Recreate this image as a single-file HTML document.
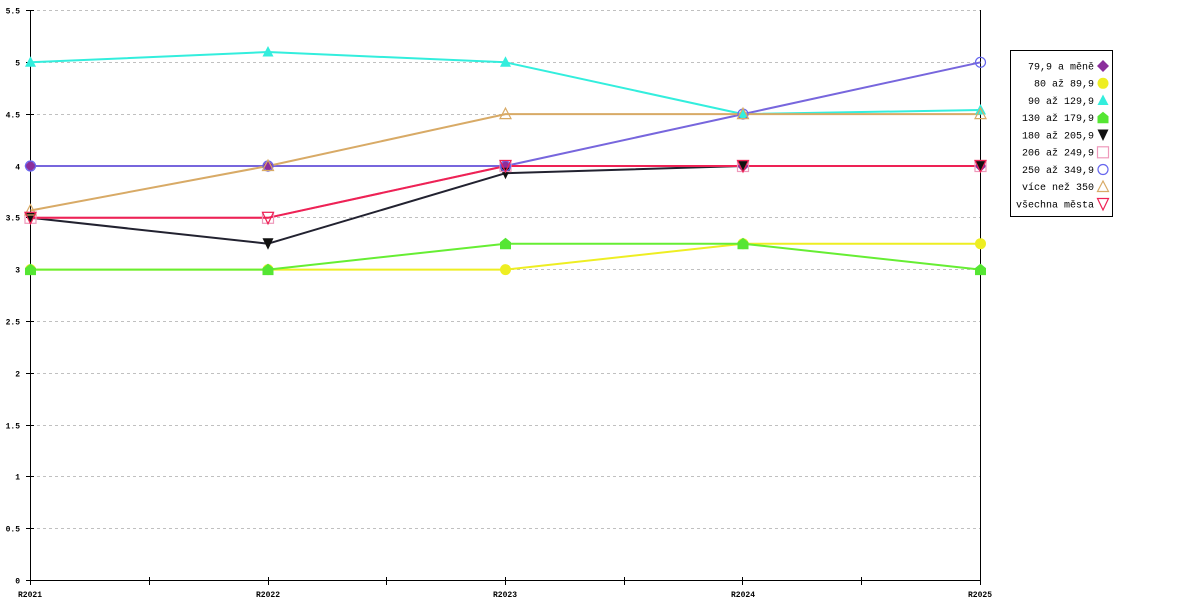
<!DOCTYPE html>
<html><head><meta charset="utf-8"><style>
html,body{margin:0;padding:0;background:#fff;}
svg{display:block;}
.t{font-family:"Liberation Mono",monospace;font-size:8px;font-weight:bold;fill:#000;}
.l{font-family:"Liberation Mono","DejaVu Sans Mono",monospace;font-size:10px;fill:#000;}
</style></head><body>
<svg width="1200" height="600" viewBox="0 0 1200 600" xmlns="http://www.w3.org/2000/svg">
<rect width="1200" height="600" fill="#fff"/>
<!-- grid -->
<g stroke="#c0c0c0" stroke-width="1" stroke-dasharray="3,3">
<line x1="31" y1="10.5" x2="980" y2="10.5"/>
<line x1="31" y1="62.5" x2="980" y2="62.5"/>
<line x1="31" y1="114.5" x2="980" y2="114.5"/>
<line x1="31" y1="166.5" x2="980" y2="166.5"/>
<line x1="31" y1="217.5" x2="980" y2="217.5"/>
<line x1="31" y1="269.5" x2="980" y2="269.5"/>
<line x1="31" y1="321.5" x2="980" y2="321.5"/>
<line x1="31" y1="373.5" x2="980" y2="373.5"/>
<line x1="31" y1="425.5" x2="980" y2="425.5"/>
<line x1="31" y1="476.5" x2="980" y2="476.5"/>
<line x1="31" y1="528.5" x2="980" y2="528.5"/>
</g>
<!-- axes -->
<g stroke="#000" stroke-width="1">
<line x1="30.5" y1="10" x2="30.5" y2="585"/>
<line x1="980.5" y1="10" x2="980.5" y2="585"/>
<line x1="30" y1="580.5" x2="981" y2="580.5"/>
<line x1="26" y1="10.5" x2="34" y2="10.5"/>
<line x1="26" y1="62.5" x2="34" y2="62.5"/>
<line x1="26" y1="114.5" x2="34" y2="114.5"/>
<line x1="26" y1="166.5" x2="34" y2="166.5"/>
<line x1="26" y1="217.5" x2="34" y2="217.5"/>
<line x1="26" y1="269.5" x2="34" y2="269.5"/>
<line x1="26" y1="321.5" x2="34" y2="321.5"/>
<line x1="26" y1="373.5" x2="34" y2="373.5"/>
<line x1="26" y1="425.5" x2="34" y2="425.5"/>
<line x1="26" y1="476.5" x2="34" y2="476.5"/>
<line x1="26" y1="528.5" x2="34" y2="528.5"/>
<line x1="26" y1="580.5" x2="34" y2="580.5"/>
<line x1="149.5" y1="577" x2="149.5" y2="585"/>
<line x1="268.5" y1="577" x2="268.5" y2="585"/>
<line x1="386.5" y1="577" x2="386.5" y2="585"/>
<line x1="505.5" y1="577" x2="505.5" y2="585"/>
<line x1="624.5" y1="577" x2="624.5" y2="585"/>
<line x1="742.5" y1="577" x2="742.5" y2="585"/>
<line x1="861.5" y1="577" x2="861.5" y2="585"/>
</g>
<!-- y labels -->
<g class="t" text-anchor="end">
<text x="20" y="13.5">5.5</text>
<text x="20" y="65.5">5</text>
<text x="20" y="117.5">4.5</text>
<text x="20" y="169.5">4</text>
<text x="20" y="220.5">3.5</text>
<text x="20" y="272.5">3</text>
<text x="20" y="324.5">2.5</text>
<text x="20" y="376.5">2</text>
<text x="20" y="428.5">1.5</text>
<text x="20" y="479.5">1</text>
<text x="20" y="531.5">0.5</text>
<text x="20" y="583.5">0</text>
</g>
<!-- x labels -->
<g class="t" text-anchor="middle">
<text x="30" y="597">R2021</text>
<text x="268" y="597">R2022</text>
<text x="505" y="597">R2023</text>
<text x="743" y="597">R2024</text>
<text x="980" y="597">R2025</text>
</g>
<!-- series lines -->
<g fill="none" stroke-width="2" stroke-linejoin="round">
<polyline stroke="#8b2e9c" points="30.5,166 268,166 505.5,166 743,166 980.5,166"/>
<polyline stroke="#eeee22" points="30.5,269.6 268,269.6 505.5,269.6 743,243.7 980.5,243.7"/>
<polyline stroke="#33eedd" points="30.5,62.3 268,52 505.5,62.3 743,114.1 980.5,110"/>
<polyline stroke="#66ee33" points="30.5,269.6 268,269.6 505.5,243.7 743,243.7 980.5,269.6"/>
<polyline stroke="#222230" points="30.5,217.8 268,243.7 505.5,173.2 743,166 980.5,166"/>
<polyline stroke="#ee99bb" points="30.5,217.8 268,217.8 505.5,166 743,166 980.5,166"/>
<polyline stroke="#7766dd" points="30.5,166 268,166 505.5,166 743,114.1 980.5,62.3"/>
<polyline stroke="#d8aa66" points="30.5,210.5 268,166 505.5,114.1 743,114.1 980.5,114.1"/>
<polyline stroke="#ee2255" points="30.5,217.8 268,217.8 505.5,166 743,166 980.5,166"/>
</g>
<defs>
<polygon id="dia" points="0,-6 6,0 0,6 -6,0"/>
<polygon id="up" points="0,-6 5.5,4.5 -5.5,4.5"/>
<polygon id="house" points="0,-6 5.5,-1.5 5.5,5.5 -5.5,5.5 -5.5,-1.5"/>
<polygon id="dn" points="-5.5,-5.5 5.5,-5.5 0,6"/>
</defs>
<!-- markers -->
<g fill="#8b2e9c">
<use href="#dia" x="30.5" y="166"/><use href="#dia" x="268" y="166"/><use href="#dia" x="505.5" y="166"/><use href="#dia" x="743" y="166"/><use href="#dia" x="980.5" y="166"/>
</g>
<g fill="#eeee22">
<circle cx="505.5" cy="269.6" r="5.5"/><circle cx="743" cy="243.7" r="5.5"/><circle cx="980.5" cy="243.7" r="5.5"/><circle cx="268" cy="269.6" r="5.5"/><circle cx="30.5" cy="269.6" r="5.5"/>
</g>
<g fill="#33eedd">
<use href="#up" x="30.5" y="62.3"/><use href="#up" x="268" y="52"/><use href="#up" x="505.5" y="62.3"/><use href="#up" x="743" y="114.1"/><use href="#up" x="980.5" y="110"/>
</g>
<g fill="#55e633">
<use href="#house" x="30.5" y="269.6"/><use href="#house" x="268" y="269.6"/><use href="#house" x="505.5" y="243.7"/><use href="#house" x="743" y="243.7"/><use href="#house" x="980.5" y="269.6"/>
</g>
<g fill="#111">
<use href="#dn" x="30.5" y="217.8"/><use href="#dn" x="268" y="243.7"/><use href="#dn" x="505.5" y="173.2"/><use href="#dn" x="743" y="166"/><use href="#dn" x="980.5" y="166"/>
</g>
<g fill="none" stroke="#ee99bb" stroke-width="1.2">
<rect x="25" y="212.3" width="11" height="11"/><rect x="262.5" y="212.3" width="11" height="11"/><rect x="500" y="160.5" width="11" height="11"/><rect x="737.5" y="160.5" width="11" height="11"/><rect x="975" y="160.5" width="11" height="11"/>
</g>
<g fill="none" stroke="#6666ee" stroke-width="1.2">
<circle cx="30.5" cy="166" r="5"/><circle cx="268" cy="166" r="5"/><circle cx="505.5" cy="166" r="5"/><circle cx="743" cy="114.1" r="5"/><circle cx="980.5" cy="62.3" r="5"/>
</g>
<g fill="none" stroke="#d8aa66" stroke-width="1.2">
<use href="#up" x="30.5" y="210.5"/><use href="#up" x="268" y="166"/><use href="#up" x="505.5" y="114.1"/><use href="#up" x="743" y="114.1"/><use href="#up" x="980.5" y="114.1"/>
</g>
<g fill="none" stroke="#ee2255" stroke-width="1.2">
<use href="#dn" x="30.5" y="217.8"/><use href="#dn" x="268" y="217.8"/><use href="#dn" x="505.5" y="166"/><use href="#dn" x="743" y="166"/><use href="#dn" x="980.5" y="166"/>
</g>
<!-- legend -->
<rect x="1010.5" y="50.5" width="102" height="166" fill="#fff" stroke="#000" stroke-width="1"/>
<g class="l" text-anchor="end">
<text x="1094" y="69.5">79,9 a měně</text>
<text x="1094" y="86.7">80 až 89,9</text>
<text x="1094" y="104">90 až 129,9</text>
<text x="1094" y="121.2">130 až 179,9</text>
<text x="1094" y="138.5">180 až 205,9</text>
<text x="1094" y="155.7">206 až 249,9</text>
<text x="1094" y="173">250 až 349,9</text>
<text x="1094" y="190.2">více než 350</text>
<text x="1094" y="207.5">všechna města</text>
</g>
<use href="#dia" x="1103" y="66" fill="#8b2e9c"/>
<circle cx="1103" cy="83.3" r="5.5" fill="#eeee22"/>
<use href="#up" x="1103" y="100.5" fill="#33eedd"/>
<use href="#house" x="1103" y="117.8" fill="#55e633"/>
<use href="#dn" x="1103" y="135" fill="#111"/>
<rect x="1097.5" y="146.8" width="11" height="11" fill="none" stroke="#ee99bb" stroke-width="1.2"/>
<circle cx="1103" cy="169.5" r="5" fill="none" stroke="#6666ee" stroke-width="1.2"/>
<use href="#up" x="1103" y="187" fill="none" stroke="#d8aa66" stroke-width="1.2"/>
<use href="#dn" x="1103" y="204" fill="none" stroke="#ee2255" stroke-width="1.2"/>
</svg>
</body></html>
